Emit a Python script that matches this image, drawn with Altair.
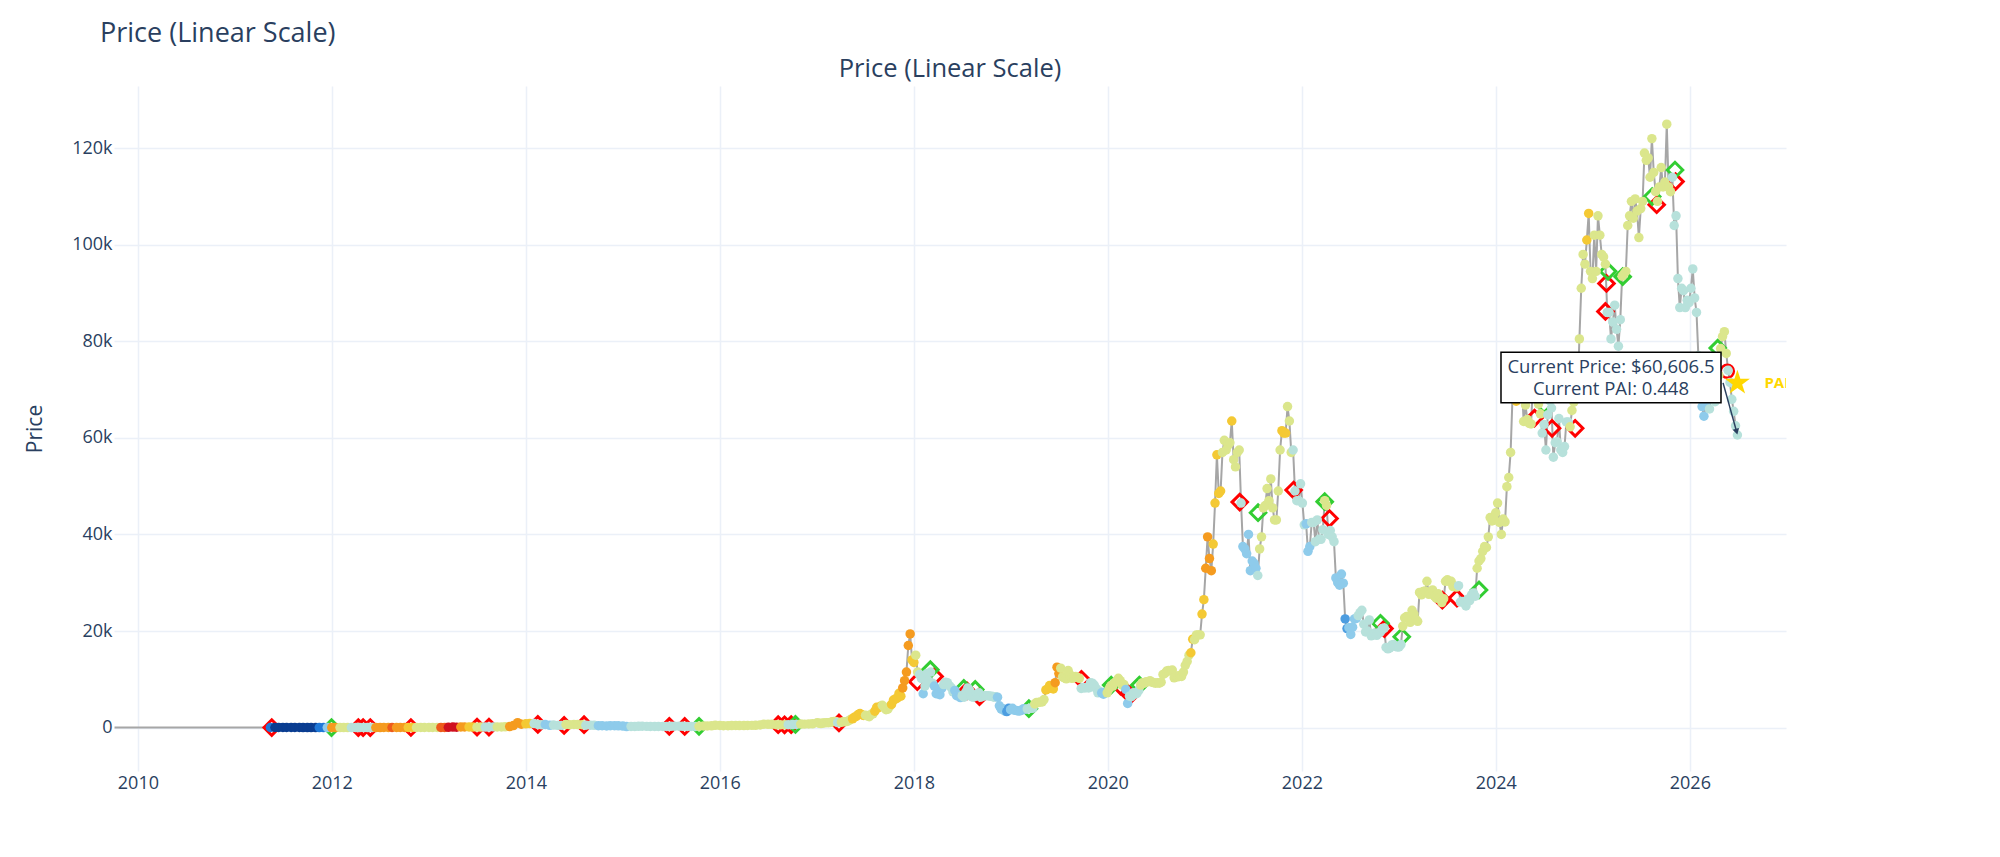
import pandas as pd
import altair as alt
from bisect import bisect_right

MAIN_TITLE = "Price (Linear Scale)"
SUB_TITLE = "Price (Linear Scale)"

# ---- early price history (line only, before the indicator starts) ----
early_dates = ["2009-10-05", "2010-07-18", "2010-11-06", "2011-02-10", "2011-04-15"]
early_prices = [0.001, 0.05, 0.3, 1.0, 0.9]

# ---- semi-monthly prices 2011-05-15 .. 2016-12-15 ----
semi_2011 = [7, 9, 19, 16, 14, 13, 11, 8, 5, 5, 4, 3.2, 2.5, 3, 3.2]
semi_2012 = [5, 6.5, 6, 4.5, 4.9, 5.3, 4.9, 5, 5, 5, 5.2, 6.5, 6.7, 8.5, 9.5, 13, 10, 11.5, 12.4, 11.8, 10.7, 11, 12.5, 13.4]
semi_2013 = [13.5, 14.5, 20, 27, 34, 47, 104, 80, 116, 115, 128, 100, 88, 98, 105, 110, 140, 128, 125, 150, 200, 420, 1000, 700]
semi_2014 = [770, 830, 820, 650, 560, 630, 470, 520, 450, 450, 630, 590, 640, 620, 590, 500, 480, 470, 380, 390, 325, 375, 380, 350]
semi_2015 = [315, 210, 225, 235, 260, 285, 245, 220, 235, 235, 225, 235, 260, 285, 280, 260, 230, 230, 238, 262, 320, 330, 360, 455]
semi_2016 = [430, 390, 375, 405, 435, 415, 415, 430, 450, 455, 535, 690, 675, 665, 605, 570, 570, 605, 610, 640, 730, 710, 750, 780]

# ---- weekly prices (Mondays) 2017 .. 2026 ----
w_2017 = [1020, 900, 830, 920, 970, 1020, 1000, 1070, 1180, 1270, 1230, 1040, 1020,
          1110, 1210, 1200, 1250, 1420, 1720, 1800, 2150, 2300, 2700, 2900, 2650, 2500,
          2550, 2400, 2250, 2750, 2850, 3400, 4200, 4100, 4400, 4600, 4200, 3700, 3800,
          4400, 4800, 5700, 5900, 6100, 7100, 6500, 8200, 9700, 11500, 17000, 19400, 14000]
w_2018 = [13500, 15000, 11500, 11000, 10200, 7000, 8600, 11200, 9600, 11500, 9200, 8600, 7000,
          7000, 6800, 8100, 8900, 9400, 9300, 8700, 8300, 7400, 7700, 6600, 6700, 6200,
          6600, 6300, 7400, 8200, 7700, 6400, 6300, 6500, 7000, 7200, 6300, 6500, 6600,
          6600, 6600, 6500, 6500, 6300, 6400, 6300, 4500, 3800, 3900, 3400, 3300, 4000, 3700]
w_2019 = [4000, 3600, 3550, 3450, 3450, 3600, 3900, 3800, 3850, 3900, 4000, 4000,
          4900, 5200, 5200, 5300, 5300, 5800, 7800, 8000, 8700, 8500, 8000, 9300, 12500,
          11200, 12300, 10500, 10300, 10100, 11800, 10900, 10200, 10300, 10600, 10400, 10200, 8100, 8300,
          8200, 8300, 8200, 9300, 9200, 8800, 8100, 7200, 7500, 7200, 6900, 7300, 7200]
w_2020 = [8000, 8700, 8600, 9300, 9600, 10200, 9700, 8800, 8900, 7900, 5000, 6500, 6400,
          7200, 6900, 7100, 7700, 8800, 9300, 9200, 9500, 9500, 9700, 9400, 9300, 9200,
          9300, 9200, 9400, 11000, 11200, 11700, 11800, 11700, 11900, 10300, 10700, 10500, 10800,
          10600, 11500, 12900, 13700, 15000, 15500, 18300, 18200, 19200, 19200, 19200, 23500, 26500]
w_2021 = [33000, 39500, 35000, 32500, 38000, 46500, 56500, 48500, 49000, 57000, 59500, 57500, 58500,
          59000, 63500, 55500, 54000, 57000, 57500, 46500, 37500, 37000, 36000, 40000, 32500, 34500,
          34000, 33000, 31500, 37000, 39500, 45500, 46000, 49500, 47000, 51500, 45500, 43000, 43000,
          49000, 57500, 61500, 61000, 61000, 66500, 63500, 57000, 57500, 49000, 47000, 47000, 50500]
w_2022 = [46500, 42000, 42200, 36500, 37500, 42500, 42500, 38500, 43000, 39000, 39000, 41000, 47000,
          46000, 40000, 40800, 39500, 38500, 31000, 30000, 29500, 31800, 29900, 22500, 20500, 20700,
          19300, 20800, 22500, 22600, 23200, 23800, 24300, 21400, 19800, 20000, 22300, 19000, 19200,
          19600, 19100, 19500, 19800, 20500, 20600, 16600, 16300, 16500, 17100, 17200, 16800, 16700]
w_2023 = [16700, 17200, 21000, 22700, 23000, 23000, 21800, 24300, 23500, 22400, 22000, 28000, 27500,
          28200, 28300, 30300, 27600, 28000, 28500, 27200, 26800, 27700, 27100, 25900, 26700, 30300,
          30600, 30300, 30300, 29200, 29200, 29100, 29400, 26000, 26100, 25900, 25200, 26600, 26300,
          27500, 27900, 27200, 33000, 34500, 35000, 36500, 37500, 37300, 39500, 43500, 42800, 43500]
w_2024 = [44500, 46500, 42500, 40000, 43200, 42600, 49900, 51800, 57000, 68300, 72000, 67600, 70000,
          69700, 71600, 63400, 66800, 63800, 63000, 62900, 71000, 68500, 70500, 67000, 65000, 61000,
          62800, 57500, 64800, 67700, 66200, 56000, 59000, 59200, 64000, 57500, 57000, 58200, 63300, 63300,
          62300, 65700, 67400, 69900, 68500, 80500, 91000, 98000, 96000, 101000, 106500, 94500, 93000]
w_2025 = [102000, 94500, 106000, 102000, 98000, 97500, 96000, 86000, 86000, 80500, 84000, 87500, 82500,
          79000, 84500, 93500, 94000, 94500, 104000, 106000, 109000, 105500, 109500, 107000, 101500, 107500,
          109000, 119000, 117500, 118000, 114000, 122000, 115000, 111000, 109000, 112000, 116000, 112000, 113000,
          125000, 112000, 111000, 114000, 104000, 106000, 93000, 87000, 91000, 90500, 87000, 88500, 88000]
w_2026 = [91000, 95000, 89000, 86000, 77000, 69000, 66500, 64500, 67000, 68500, 66000, 69000, 68000,
          67500, 69500, 73000, 78500, 81000, 82000, 77500, 74000, 71500, 68000, 65500, 62500, 60606.5]

# ---- PAI colour zones (start date of each run, PAI level of the run) ----
zone_starts = [
    "2011-05-15", "2011-06-01", "2011-11-15", "2011-12-15", "2012-01-01", "2012-02-01", "2012-03-15",
    "2012-06-15", "2012-08-15", "2012-09-01", "2012-10-15", "2012-11-15", "2013-02-15", "2013-03-15",
    "2013-05-01", "2013-06-01", "2013-07-01", "2013-08-01", "2013-09-15", "2013-11-01", "2014-01-01",
    "2014-02-01", "2014-03-15", "2014-04-15", "2014-06-01", "2014-08-15", "2014-10-01", "2015-02-01",
    "2015-10-15", "2016-09-15", "2016-11-01", "2017-03-15", "2017-04-01", "2017-05-15", "2017-07-01",
    "2017-08-07", "2017-09-04", "2017-10-09", "2017-11-20", "2017-12-25", "2018-01-08", "2018-01-22",
    "2018-02-05", "2018-02-12", "2018-03-19", "2018-04-23", "2018-06-04", "2018-07-02", "2018-11-12",
    "2018-12-17", "2018-12-31", "2019-03-04", "2019-04-01", "2019-05-13", "2019-06-17", "2019-07-08",
    "2019-09-23", "2019-12-09", "2019-12-30", "2020-03-09", "2020-03-23", "2020-05-04", "2020-11-09",
    "2020-11-23", "2020-12-21", "2021-01-04", "2021-02-01", "2021-03-08", "2021-04-12", "2021-04-19",
    "2021-05-17", "2021-05-24", "2021-07-19", "2021-07-26", "2021-10-18", "2021-11-08", "2021-11-29",
    "2022-01-17", "2022-02-07", "2022-03-28", "2022-04-11", "2022-05-09", "2022-06-13", "2022-06-27",
    "2022-08-01", "2023-01-16", "2023-08-14", "2023-10-23", "2024-03-04", "2024-03-25", "2024-06-24",
    "2024-10-07", "2024-12-09", "2024-12-23", "2025-02-24", "2025-04-21", "2025-10-27", "2026-02-09",
    "2026-03-09", "2026-04-20", "2026-05-25"]
zone_pai = [
    0.15, 0.05, 0.15, 0.35, 0.75, 0.55, 0.45,
    0.75, 0.85, 0.75, 0.65, 0.55, 0.85, 0.95,
    0.75, 0.65, 0.55, 0.45, 0.55, 0.75, 0.65,
    0.45, 0.35, 0.45, 0.55, 0.45, 0.35, 0.45,
    0.55, 0.45, 0.55, 0.45, 0.55, 0.65, 0.55,
    0.65, 0.55, 0.65, 0.75, 0.65, 0.55, 0.45,
    0.35, 0.45, 0.35, 0.45, 0.35, 0.45, 0.35,
    0.25, 0.35, 0.45, 0.55, 0.65, 0.75, 0.55,
    0.45, 0.35, 0.55, 0.35, 0.45, 0.55, 0.65,
    0.55, 0.65, 0.75, 0.65, 0.55, 0.65, 0.55,
    0.45, 0.35, 0.45, 0.55, 0.65, 0.55, 0.45,
    0.35, 0.45, 0.55, 0.45, 0.35, 0.25, 0.35,
    0.45, 0.55, 0.45, 0.55, 0.65, 0.55, 0.45,
    0.55, 0.65, 0.55, 0.45, 0.55, 0.45, 0.35,
    0.45, 0.55, 0.45]

pai_breaks = [0.1, 0.2, 0.3, 0.4, 0.5, 0.6, 0.7, 0.8, 0.9]
pai_colors = ["#0a3d91", "#1f78d8", "#4d9de0", "#8ecbeb", "#b7e1db",
              "#dbe68c", "#f4c934", "#f59b1f", "#ee5b1b", "#cf1020"]

# ---- signals ----
sell_dates = ["2011-05-20", "2012-04-10", "2012-04-28", "2012-05-25", "2012-10-25", "2013-07-01",
              "2013-08-15", "2014-02-15", "2014-05-25", "2014-08-08", "2015-06-25", "2015-08-22",
              "2016-08-08", "2016-09-01", "2016-09-26", "2017-03-25", "2018-01-14", "2018-03-20",
              "2018-07-20", "2018-09-05", "2019-09-24", "2020-02-18", "2020-03-26", "2021-05-12",
              "2021-12-01", "2022-04-15", "2022-11-08", "2023-06-14", "2023-08-08", "2024-05-26",
              "2024-07-31", "2024-10-26", "2025-02-17", "2025-02-21", "2025-08-29", "2025-11-08"]
sell_prices = [7, 5, 5, 5, 11, 90, 105, 650, 450, 590, 245, 230, 590, 575, 600, 950, 9500, 10600,
               7600, 6400, 10000, 8600, 6700, 46700, 49200, 43300, 20500, 26400, 26800, 64100,
               62000, 62000, 86200, 92000, 108300, 113100]
buy_dates = ["2011-12-31", "2015-10-15", "2016-10-12", "2018-03-04", "2018-07-08", "2018-08-20",
             "2019-03-10", "2020-01-14", "2020-04-29", "2021-07-20", "2022-03-28", "2022-10-24",
             "2023-01-12", "2023-10-30", "2024-07-01", "2025-02-27", "2025-04-23", "2025-08-12",
             "2025-11-06", "2026-04-16"]
buy_prices = [4, 250, 640, 12000, 8100, 7900, 3900, 8800, 8800, 44500, 46800, 21600, 18800,
              28500, 66900, 94500, 93400, 110000, 115500, 78600]
exit_dates = ["2026-05-22"]
exit_prices = [73800]

current_price_text = "Current Price: $60,606.5\nCurrent PAI: 0.448"
pai_label = "PAI: 0.448"

# ---------------- build tables ----------------
semi_prices = semi_2011 + semi_2012 + semi_2013 + semi_2014 + semi_2015 + semi_2016
semi_dates = list(pd.date_range("2011-05-15", "2016-12-15", freq="SMS"))
rows = list(zip(semi_dates, semi_prices))
weekly = {2017: w_2017, 2018: w_2018, 2019: w_2019, 2020: w_2020, 2021: w_2021,
          2022: w_2022, 2023: w_2023, 2024: w_2024, 2025: w_2025, 2026: w_2026}
for yr, vals in weekly.items():
    end = f"{yr}-12-31" if yr < 2026 else "2026-06-30"
    rows += list(zip(pd.date_range(f"{yr}-01-01", end, freq="W-MON"), vals))

zs = [pd.Timestamp(d) for d in zone_starts]
pts = pd.DataFrame(rows, columns=["date", "price"])
pts["pai"] = [zone_pai[max(bisect_right(zs, d) - 1, 0)] for d in pts["date"]]

line_df = pd.concat([pd.DataFrame({"date": pd.to_datetime(early_dates), "price": early_prices}),
                     pts[["date", "price"]]], ignore_index=True)
sell_df = pd.DataFrame({"date": pd.to_datetime(sell_dates), "price": sell_prices})
buy_df = pd.DataFrame({"date": pd.to_datetime(buy_dates), "price": buy_prices})
exit_df = pd.DataFrame({"date": pd.to_datetime(exit_dates), "price": exit_prices})

last_date = pts["date"].iloc[-1]
star_df = pd.DataFrame({"date": [last_date], "price": [71400], "label": [pai_label]})
arrow_df = pd.DataFrame({"date": [pd.Timestamp("2026-05-06")], "price": [71400],
                         "date2": [pd.Timestamp("2026-06-26")], "price2": [61300]})
head_df = pd.DataFrame({"date": [pd.Timestamp("2026-06-26")], "price": [61300]})
box_df = pd.DataFrame({"date": [pd.Timestamp("2025-03-10")], "price": [72500], "txt": [current_price_text]})

STAR_PATH = ("M0,-1L0.2245,-0.309L0.951,-0.309L0.3633,0.118L0.588,0.809L0,0.382"
             "L-0.588,0.809L-0.3633,0.118L-0.951,-0.309L-0.2245,-0.309Z")
BOX_PATH = "M-1,-0.23L1,-0.23L1,0.23L-1,0.23Z"

FONT = "Open Sans"
INK = "#2a3f5f"
GRID = "#EBF0F8"
W, H = 1672, 685

x_enc = alt.X("date:T", title=None,
              scale=alt.Scale(domain=[alt.DateTime(year=2009, month=10, date=3),
                                      alt.DateTime(year=2026, month=12, date=29)]),
              axis=alt.Axis(values=[alt.DateTime(year=y, month=1, date=1) for y in range(2010, 2027, 2)],
                            format="%Y", labelFont=FONT, labelFontSize=18, labelColor=INK,
                            grid=True, gridColor=GRID, gridWidth=1.5, domain=False,
                            ticks=False, tickSize=0, labelPadding=3))
y_enc = alt.Y("price:Q", title="Price",
              scale=alt.Scale(domain=[-9000, 132900], nice=False, zero=False),
              axis=alt.Axis(values=[0, 20000, 40000, 60000, 80000, 100000, 120000],
                            labelExpr="format(datum.value, '~s')",
                            labelFont=FONT, labelFontSize=18, labelColor=INK,
                            grid=True, gridColor=GRID, gridWidth=1.5, domain=False,
                            ticks=False, tickSize=0, labelPadding=2,
                            titleFont=FONT, titleFontSize=21, titleFontWeight="normal", titleColor=INK,
                            titleAngle=270, titleX=-79, titleY=H / 2, titleAlign="center",
                            titleBaseline="middle"))

line = alt.Chart(line_df).mark_line(color="#a6a6a6", strokeWidth=2).encode(x=x_enc, y=y_enc)
sell = alt.Chart(sell_df).mark_point(shape="diamond", filled=False, color="#ff0000", size=240,
                                     strokeWidth=3, opacity=1).encode(x=x_enc, y=y_enc)
buy = alt.Chart(buy_df).mark_point(shape="diamond", filled=False, color="#32cd32", size=240,
                                   strokeWidth=3, opacity=1).encode(x=x_enc, y=y_enc)
exitc = alt.Chart(exit_df).mark_point(shape="circle", filled=False, color="#ff0000", size=170,
                                      strokeWidth=2.5, opacity=1).encode(x=x_enc, y=y_enc)
dots = alt.Chart(pts).mark_circle(size=90, opacity=1).encode(
    x=x_enc, y=y_enc,
    color=alt.Color("pai:Q", scale=alt.Scale(type="threshold", domain=pai_breaks, range=pai_colors),
                    legend=None))
star = alt.Chart(star_df).mark_point(shape=STAR_PATH, filled=True, color="#FFD700", size=690,
                                     opacity=1).encode(x=x_enc, y=y_enc)
star_lbl = alt.Chart(star_df).mark_text(align="left", baseline="middle", dx=27, color="#FFD700",
                                        fontSize=15, fontWeight="bold", font=FONT, clip=True).encode(
    x=x_enc, y=y_enc, text="label:N")
arrow = alt.Chart(arrow_df).mark_rule(color=INK, strokeWidth=1.5).encode(
    x=x_enc, y=y_enc, x2="date2:T", y2="price2:Q")
head = alt.Chart(head_df).mark_point(shape="triangle-down", filled=True, color=INK, size=45,
                                     angle=344, opacity=1).encode(x=x_enc, y=y_enc)
box = alt.Chart(box_df).mark_point(shape=BOX_PATH, size=48400,
                                   filled=True, fill="white", stroke="black", strokeWidth=1.5,
                                   opacity=1).encode(x=x_enc, y=y_enc)
box_txt = alt.Chart(box_df).mark_text(lineBreak="\n", fontSize=18.5, font=FONT, color=INK,
                                      align="center", baseline="middle", lineHeight=22,
                                      dy=-11).encode(
    x=x_enc, y=y_enc, text="txt:N")

t_main = alt.Chart(pd.DataFrame({"t": [MAIN_TITLE]})).mark_text(
    align="left", baseline="alphabetic", fontSize=27, font=FONT, color=INK).encode(
    text="t:N", x=alt.value(-14), y=alt.value(-44))
t_sub = alt.Chart(pd.DataFrame({"t": [SUB_TITLE]})).mark_text(
    align="center", baseline="alphabetic", fontSize=25.5, font=FONT, color=INK).encode(
    text="t:N", x=alt.value(W / 2), y=alt.value(-9))

chart = alt.layer(line, sell, buy, exitc, dots, star, star_lbl, arrow, head, box, box_txt,
                  t_main, t_sub).properties(
    width=W, height=H,
    autosize=alt.AutoSizeParams(type="none"),
    padding={"left": 106, "top": 78, "right": 190, "bottom": 60},
    background="white",
).configure_view(strokeWidth=0)

chart.save("out.html", embed_options={"renderer": "svg", "actions": False})
